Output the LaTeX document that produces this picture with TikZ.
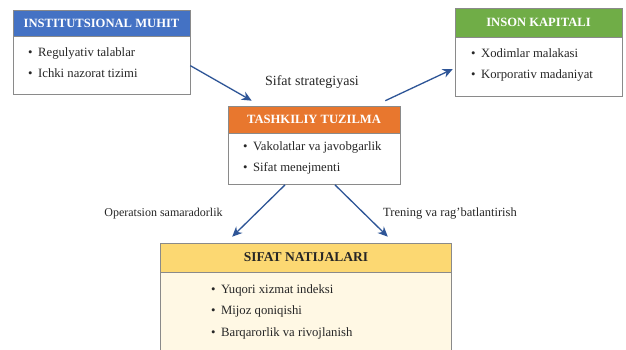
\documentclass[tikz,border=0pt]{standalone}
\usepackage{fontspec}
\setmainfont{Liberation Serif}
\usetikzlibrary{arrows.meta}
\definecolor{hblue}{HTML}{4472C4}
\definecolor{hgreen}{HTML}{70AD47}
\definecolor{horange}{HTML}{E8772E}
\definecolor{hyellow}{HTML}{FCD872}
\definecolor{byellow}{HTML}{FFF8E4}
\definecolor{arrblue}{HTML}{2E5597}
\definecolor{bordergray}{HTML}{8A8A8A}
\definecolor{txt}{HTML}{262626}
\tikzset{
  hdr/.style={draw=bordergray, line width=0.6pt, inner sep=0pt, font=\fontsize{12.6}{14}\selectfont\bfseries, text=white},
  bodybox/.style={draw=bordergray, line width=0.6pt, fill=white, inner sep=0pt, anchor=north},
  item/.style={anchor=west, inner sep=0pt, text=txt, font=\fontsize{12.7}{14}\selectfont},
  lbl/.style={inner sep=0pt, text=txt, font=\fontsize{12.5}{14}\selectfont},
  arr/.style={draw=arrblue, line width=1.3pt, -{Stealth[length=10pt,width=9pt]}}
}
\newcommand{\bul}{\textbullet\hspace{5.5pt}}
\begin{document}
\begin{tikzpicture}[x=1pt,y=-1pt]
\clip (0,0) rectangle (626,349);
\fill[white] (0,0) rectangle (626,349);
% Box 1
\node[hdr, fill=hblue, minimum width=177pt, minimum height=26pt] (h1) at (101.5,23) {INSTITUTSIONAL MUHIT};
\node[bodybox, minimum width=177pt, minimum height=58pt] (b1) at (h1.south) {};
\node[item] (i11) at (28,53) {\bul Regulyativ talablar};
\node[item] (i12) at (28,73) {\bul Ichki nazorat tizimi};
% Box 2
\node[hdr, fill=hgreen, minimum width=167pt, minimum height=29pt] (h2) at (538.5,22.5) {INSON KAPITALI};
\node[bodybox, minimum width=167pt, minimum height=59pt] (b2) at (h2.south) {};
\node[item] (i21) at (471,53) {\bul Xodimlar malakasi};
\node[item] (i22) at (471,75) {\bul Korporativ madaniyat};
% Box 3
\node[hdr, fill=horange, minimum width=172pt, minimum height=27pt] (h3) at (314,119.5) {TASHKILIY TUZILMA};
\node[bodybox, minimum width=172pt, minimum height=51pt] (b3) at (h3.south) {};
\node[item] (i31) at (243,147) {\bul Vakolatlar va javobgarlik};
\node[item] (i32) at (243,168) {\bul Sifat menejmenti};
% Box 4
\node[hdr, fill=hyellow, text=txt, font=\fontsize{13.5}{15}\selectfont\bfseries, minimum width=291pt, minimum height=29pt] (h4) at (306,257.5) {SIFAT NATIJALARI};
\node[bodybox, fill=byellow, minimum width=291pt, minimum height=90pt] (b4) at (h4.south) {};
\node[item] (i41) at (211,290) {\bul Yuqori xizmat indeksi};
\node[item] (i42) at (211,311) {\bul Mijoz qoniqishi};
\node[item] (i43) at (211,333) {\bul Barqarorlik va rivojlanish};
% Labels
\node[lbl, font=\fontsize{14}{16}\selectfont] (l1) at (312,82) {Sifat strategiyasi};
\node[lbl, font=\fontsize{12}{14}\selectfont] (l2) at (163.5,214) {Operatsion samaradorlik};
\node[lbl] (l3) at (450,214) {Trening va rag'batlantirish};
% Arrows
\draw[arr] (b1.east) -- ([shift={(24,-5)}]h3.north west);
\draw[arr] ([shift={(-15,-5)}]h3.north east) -- ([shift={(-2,2)}]b2.west);
\draw[arr] ([xshift=-29pt]b3.south) -- ([shift={(72,-6)}]h4.north west);
\draw[arr] ([xshift=21pt]b3.south) -- ([shift={(-64,-6)}]h4.north east);
\end{tikzpicture}
\end{document}
